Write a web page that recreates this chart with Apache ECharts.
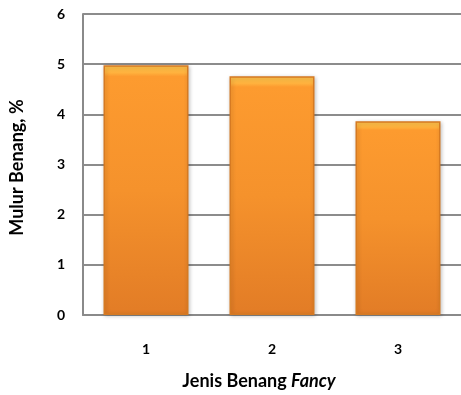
<!DOCTYPE html>
<html><head><meta charset="utf-8">
<script src="https://cdn.jsdelivr.net/npm/echarts@6/dist/echarts.min.js"></script>
<style>html,body{margin:0;padding:0;background:#fff}#c{width:461px;height:395px}</style>
</head><body><div id="c"></div>
<script>
var categories = ['1', '2', '3'];
var values = [4.98, 4.76, 3.86];
var yTicks = [0, 1, 2, 3, 4, 5, 6];

var FONT = 'Lato, "Open Sans", sans-serif';
var chart = echarts.init(document.getElementById('c'), null, {renderer: 'canvas'});
chart.setOption({
  animation: false,
  grid: {left: 82, top: 14, width: 382, height: 306, containLabel: false},
  xAxis: {
    type: 'category', data: categories,
    axisLine: {show: true, lineStyle: {color: '#8a8a8a', width: 2}},
    axisTick: {show: false},
    axisLabel: {margin: 27, fontFamily: FONT, fontWeight: 'bold', fontSize: 14, color: '#000'},
    name: 'Jenis Benang {i|Fancy}', nameLocation: 'middle', nameGap: 57,
    nameTextStyle: {fontFamily: FONT, fontWeight: 'bold', fontSize: 18, color: '#000', padding: [0, 0, 0, -26],
      rich: {i: {fontFamily: FONT, fontWeight: 'bold', fontStyle: 'italic', fontSize: 18, color: '#000'}}}
  },
  yAxis: {
    type: 'value', min: 0, max: 6, interval: 1,
    axisLine: {show: true, lineStyle: {color: '#8a8a8a', width: 2}},
    axisTick: {show: false},
    splitLine: {show: true, lineStyle: {color: '#8c8c8c', width: 2}},
    axisLabel: {margin: 18, fontFamily: FONT, fontWeight: 'bold', fontSize: 14, color: '#000',
      formatter: function (v) { return yTicks.indexOf(v) >= 0 ? String(v) : ''; }},
    name: 'Mulur Benang, %', nameLocation: 'middle', nameGap: 57, nameRotate: 90,
    nameTextStyle: {fontFamily: FONT, fontWeight: 'bold', fontSize: 18, color: '#000', padding: [0, 0, 0, -6]}
  },
  series: [{
    type: 'bar', data: values, barWidth: 85,
    itemStyle: {
      color: new echarts.graphic.LinearGradient(0, 0, 0, 1, [
        {offset: 0, color: '#ffc54e'},
        {offset: 0.03, color: '#ffb23e'},
        {offset: 0.045, color: '#fd9b2f'},
        {offset: 0.5, color: '#f5922c'},
        {offset: 1, color: '#e27c26'}
      ]),
      borderColor: '#d67a22', borderWidth: 1.5,
      shadowColor: 'rgba(0,0,0,0.22)', shadowBlur: 4, shadowOffsetX: 1, shadowOffsetY: 1
    }
  }]
});
</script></body></html>
